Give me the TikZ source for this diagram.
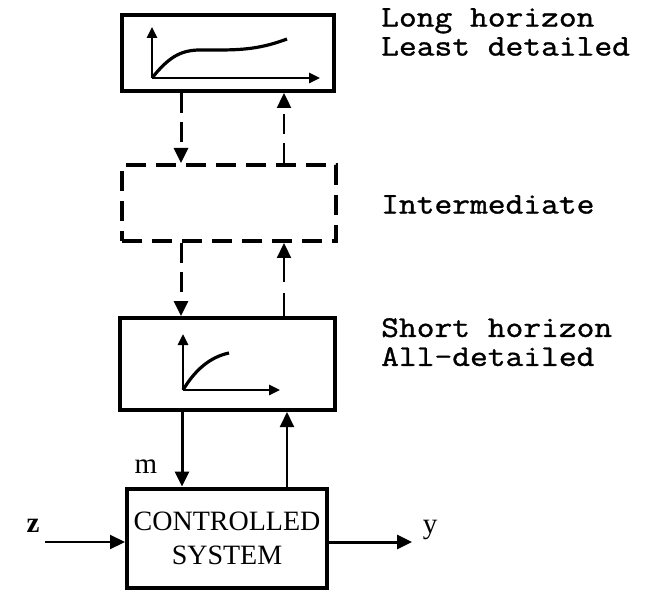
\documentclass[tikz,border=0pt]{standalone}
\usepackage{fontspec}
\setmainfont{Liberation Serif}
\newfontfamily\tw[FakeBold=1.2,FakeStretch=1.15]{Latin Modern Mono}
\usetikzlibrary{arrows.meta}
\begin{document}
\begin{tikzpicture}[x=1pt,y=-1pt,
  box/.style={draw,line width=4pt,inner sep=0pt},
  dbox/.style={draw,line width=4pt,inner sep=0pt,dash pattern=on 20pt off 10pt},
  tip/.style={-{Triangle[length=15pt,width=14pt]}},
  down/.style={tip,line width=3pt},
  up/.style={tip,line width=2pt},
  dsh/.style={dash pattern=on 20pt off 9pt},
  lbl/.style={font=\tw\fontsize{30}{29}\selectfont,anchor=north west,inner sep=0pt,align=left},
  sym/.style={font=\fontsize{29}{29}\selectfont,inner sep=0pt},
  axis/.style={-{Triangle[length=11pt,width=10pt]},line width=2.6pt},
  curve/.style={line width=3.2pt}]
\useasboundingbox (0,0) rectangle (652,593);

% the four blocks
\node[box,minimum width=212pt,minimum height=76pt] (top) at (228,53) {};
\node[dbox,minimum width=214pt,minimum height=76pt] (mid) at (229,203) {};
\node[box,minimum width=215pt,minimum height=92pt] (low) at (227.5,364) {};
\node[box,minimum width=200pt,minimum height=99pt,align=center,
      font=\fontsize{28}{34}\selectfont] (sys) at (227,538) {CONTROLLED\\SYSTEM};

% sketches of the planning horizons
\coordinate (o1) at (152,78);
\coordinate (ya1) at (152,27);
\coordinate (xa1) at (320,78);
\draw[axis] (o1) -- (ya1);
\draw[axis] (o1) -- (xa1);
\draw[curve] (o1) .. controls (168,58) and (180,50) .. (200,50)
  .. controls (235,50) and (255,51) .. (287,39);

\coordinate (o3) at (183,390);
\coordinate (ya3) at (183,334);
\coordinate (xa3) at (280,390);
\draw[axis] (o3) -- (ya3);
\draw[axis] (o3) -- (xa3);
\draw[curve] (o3) .. controls (195,370) and (210,357) .. (229,353);

% connector columns
\coordinate (dl) at (181,0);
\coordinate (ul) at (284,0);
\coordinate (dm) at (182,0);
\coordinate (um) at (287,0);

\draw[down,dsh] (top.south -| dl) -- (mid.north -| dl);
\draw[up,dsh,line width=2.4pt] (mid.north -| ul) -- (top.south -| ul);
\draw[down,dsh] (mid.south -| dl) -- (low.north -| dl);
\draw[up,line width=2.2pt,dash pattern=on 23pt off 11pt on 60pt] (low.north -| ul) -- (mid.south -| ul);
\draw[down] (low.south -| dm) -- (sys.north -| dm);
\draw[up] (sys.north -| um) -- (low.south -| um);

% plant inputs and outputs
\coordinate (zin) at (45,542);
\coordinate (yout) at (412,542);
\draw[up,line width=2.2pt] (zin) -- (sys.west |- zin);
\draw[down] (sys.east |- yout) -- (yout);

\node[sym,font=\bfseries\fontsize{29}{29}\selectfont] (z) at (33,526) {z};
\node[sym] (y) at (430,530) {y};
\node[sym] (m) at (146,467) {m};

% level descriptions
\node[lbl] (t1) at (381,8) {Long horizon\\Least detailed};
\node[lbl] (t3) at (381,195) {Intermediate};
\node[lbl] (t4) at (381,318) {Short horizon\\All-detailed};
\end{tikzpicture}
\end{document}
